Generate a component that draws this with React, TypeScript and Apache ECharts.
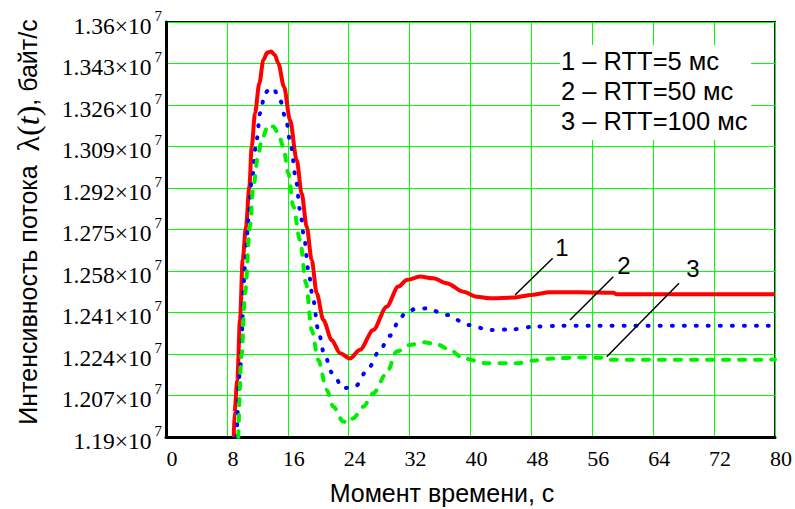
import React, { useEffect, useRef } from "react";
import * as echarts from "echarts";

// values in units of 1e7 bytes/s
const SCALE = 1e7;

const tRed = [8.9, 9.0, 9.37, 9.72, 10.07, 10.51, 10.95, 11.26, 11.69, 12.26, 12.79, 13.3, 13.79, 14.3, 14.76, 15.5, 16.29, 17.17, 17.82, 18.48, 19.14, 19.8, 20.67, 21.77, 22.86, 24.17, 25.48, 27.23, 28.98, 30.52, 31.62, 33.37, 35.12, 36.87, 39.06, 40.81, 42.56, 45.62, 48.03, 50.44, 54.4, 58.76, 59.2, 80];
const vRed = [1.19, 1.2, 1.2134, 1.2379, 1.2625, 1.2762, 1.2925, 1.3089, 1.3226, 1.3349, 1.3444, 1.3475, 1.3479, 1.3465, 1.343, 1.3335, 1.3199, 1.3035, 1.2898, 1.2762, 1.2625, 1.2489, 1.2379, 1.2297, 1.2243, 1.2222, 1.2257, 1.2338, 1.2434, 1.2516, 1.2543, 1.2557, 1.255, 1.253, 1.2495, 1.2475, 1.2468, 1.2471, 1.2482, 1.2493, 1.2493, 1.2491, 1.2485, 1.2485];

const tBlue = [9.29, 9.72, 10.38, 10.82, 11.26, 11.91, 12.35, 13.0, 13.6, 14.1, 14.98, 15.76, 16.42, 17.08, 17.6, 18.13, 18.7, 19.27, 20.0, 20.75, 21.85, 23.29, 24.83, 26.58, 28.1, 29.43, 30.65, 31.4, 32.8, 34.25, 36.87, 39.71, 42.56, 45.62, 48.25, 52, 80];
const vBlue = [1.19, 1.2175, 1.2598, 1.2789, 1.2953, 1.3117, 1.3226, 1.3308, 1.3327, 1.3328, 1.328, 1.3199, 1.3089, 1.2953, 1.283, 1.2721, 1.2584, 1.2475, 1.2338, 1.2243, 1.2161, 1.21, 1.2106, 1.2181, 1.2257, 1.2315, 1.2379, 1.2407, 1.2425, 1.2427, 1.24, 1.2359, 1.2338, 1.2341, 1.2352, 1.2356, 1.2356];

const tGreen = [9.5, 9.94, 10.38, 11.03, 11.47, 12.13, 12.57, 13.44, 14.1, 14.76, 15.41, 16.07, 16.73, 17.6, 18.39, 19.14, 20.0, 21.11, 21.98, 23.29, 24.0, 24.6, 25.92, 27.23, 28.98, 30.3, 32.05, 33.8, 35.56, 37.3, 39.06, 42.13, 46.07, 48.25, 50.88, 54.4, 57.0, 58.3, 80];
const vGreen = [1.19, 1.2243, 1.2489, 1.2762, 1.2925, 1.3062, 1.3117, 1.3178, 1.3172, 1.3144, 1.3089, 1.298, 1.2844, 1.2707, 1.253, 1.2338, 1.2216, 1.2093, 1.2024, 1.1963, 1.1958, 1.1977, 1.2024, 1.2079, 1.2161, 1.225, 1.2277, 1.2288, 1.228, 1.2257, 1.2222, 1.2202, 1.2202, 1.2213, 1.2222, 1.2226, 1.2225, 1.2216, 1.2217];

const yTickMantissas = ["1.19", "1.207", "1.224", "1.241", "1.258", "1.275", "1.292", "1.309", "1.326", "1.343", "1.36"];
const yExponent = "7";

const legendLines = ["1 – RTT=5 мс", "2 – RTT=50 мс", "3 – RTT=100 мс"];
const curveLabels = ["1", "2", "3"];
const xAxisTitle = "Момент времени, с";
const yAxisTitleA = "Интенсивность потока  ";
const yAxisTitleB = ", байт/с";

const SERIF = "'Liberation Serif', 'Times New Roman', serif";
const SANS = "'Liberation Sans', Arial, sans-serif";

function pairs(t: number[], v: number[]) {
  return t.map((x, i) => [x, v[i] * SCALE]);
}

export default function App() {
  const ref = useRef<HTMLDivElement>(null);
  useEffect(() => {
    if (!ref.current) return;
    const chart = echarts.init(ref.current, undefined, { renderer: "svg" });
    const seriesBase = {
      type: "line" as const,
      showSymbol: false,
      smooth: 0.3,
      smoothMonotone: "x" as const,
      clip: true,
      z: 3,
    };
    chart.setOption({
      animation: false,
      backgroundColor: "#ffffff",
      grid: {
        left: 166,
        top: 22,
        width: 609,
        height: 415,
        show: true,
        borderColor: "#111",
        borderWidth: 2,
        backgroundColor: "transparent",
      },
      xAxis: {
        type: "value",
        min: 0,
        max: 80,
        interval: 8,
        axisLine: { show: true, lineStyle: { color: "#000", width: 3 } },
        axisTick: { show: false },
        splitLine: { show: true, lineStyle: { color: "#00ff00", width: 1 } },
        axisLabel: {
          color: "#000",
          fontFamily: SERIF,
          fontSize: 22,
          margin: 10,
          padding: [0, 0, 0, 12],
        },
      },
      yAxis: {
        type: "value",
        min: 11900000,
        max: 13600000,
        interval: 170000,
        axisLine: { show: true, lineStyle: { color: "#000", width: 3 } },
        axisTick: { show: false },
        splitLine: { show: true, lineStyle: { color: "#00ff00", width: 1 } },
        axisLabel: {
          margin: 4,
          formatter: (_v: number, idx: number) =>
            `{m|${yTickMantissas[idx]}×10}{e|${yExponent}}`,
          rich: {
            m: { fontFamily: SERIF, fontSize: 23.5, color: "#000", padding: [7, 0, 0, 0] },
            e: { fontFamily: SERIF, fontSize: 15, color: "#000", padding: [0, 0, 13, 3] },
          },
        },
      },
      series: [
        {
          ...seriesBase,
          name: "1",
          data: pairs(tRed, vRed),
          lineStyle: { color: "#ff0000", width: 4 },
        },
        {
          ...seriesBase,
          name: "2",
          data: pairs(tBlue, vBlue),
          lineStyle: { color: "#0000ff", width: 4, type: [1, 11], cap: "round" },
        },
        {
          ...seriesBase,
          name: "3",
          data: pairs(tGreen, vGreen),
          lineStyle: { color: "#00ee00", width: 4, type: [6, 10], cap: "round" },
        },
      ],
      graphic: [
        {
          type: "rect",
          z: 10,
          shape: { x: 560, y: 45, width: 191, height: 95 },
          style: { fill: "#ffffff" },
        },
        ...legendLines.map((txt, i) => ({
          type: "text",
          z: 11,
          x: 561,
          y: 61 + i * 30,
          style: {
            text: txt,
            font: `25.5px ${SANS}`,
            fill: "#000",
            align: "left",
            verticalAlign: "middle",
          },
        })),
        { type: "line", z: 11, shape: { x1: 552.7, y1: 258.3, x2: 515, y2: 295 }, style: { stroke: "#000", lineWidth: 1.5 } },
        { type: "line", z: 11, shape: { x1: 613.3, y1: 276.7, x2: 570, y2: 320 }, style: { stroke: "#000", lineWidth: 1.5 } },
        { type: "line", z: 11, shape: { x1: 679, y1: 283.3, x2: 606.7, y2: 356.7 }, style: { stroke: "#000", lineWidth: 1.5 } },
        ...curveLabels.map((txt, i) => ({
          type: "text",
          z: 11,
          x: [562, 624, 693][i],
          y: [247, 265, 268][i],
          style: {
            text: txt,
            font: `24px ${SANS}`,
            fill: "#000",
            align: "center",
            verticalAlign: "middle",
          },
        })),
        {
          type: "text",
          z: 11,
          x: 442,
          y: 493,
          style: {
            text: xAxisTitle,
            font: `25px ${SANS}`,
            fill: "#000",
            align: "center",
            verticalAlign: "middle",
          },
        },
        {
          type: "text",
          z: 11,
          x: 28,
          y: 222,
          rotation: Math.PI / 2,
          style: {
            text: `{a|${yAxisTitleA}}{l|λ(}{t|t}{l|)}{a|${yAxisTitleB}}`,
            fill: "#000",
            align: "center",
            verticalAlign: "middle",
            rich: {
              a: { fontFamily: SANS, fontSize: 25, fill: "#000" },
              l: { fontFamily: SERIF, fontSize: 32, fill: "#000" },
              t: { fontFamily: SERIF, fontSize: 32, fontStyle: "italic", fill: "#000" },
            },
          },
        },
      ],
    });
    return () => chart.dispose();
  }, []);
  return (
    <div
      ref={ref}
      style={{ position: "fixed", left: 0, top: 0, width: 795, height: 509, background: "#fff" }}
    />
  );
}
